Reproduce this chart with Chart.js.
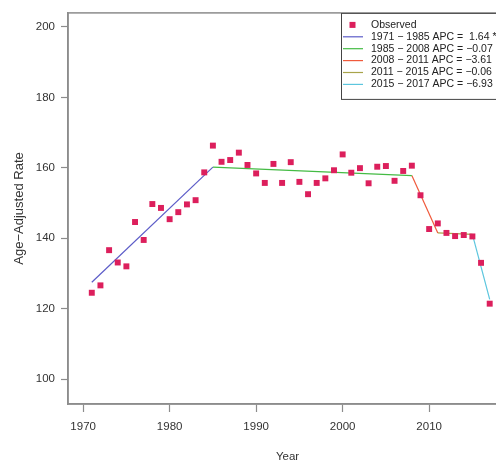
<!DOCTYPE html>
<html>
<head>
<meta charset="utf-8">
<script src="https://cdn.jsdelivr.net/npm/chart.js@4.4.0/dist/chart.umd.min.js"></script>
<style>
  html, body { margin: 0; padding: 0; background: #fff; overflow: hidden; }
  #wrap { width: 520px; height: 464px; }
</style>
</head>
<body>
<div id="wrap"><canvas id="myChart" width="520" height="464"></canvas></div>
<script>
// Observed age-adjusted rates
const years = [1971, 1972, 1973, 1974, 1975, 1976, 1977, 1978, 1979, 1980,
               1981, 1982, 1983, 1984, 1985, 1986, 1987, 1988, 1989, 1990,
               1991, 1992, 1993, 1994, 1995, 1996, 1997, 1998, 1999, 2000,
               2001, 2002, 2003, 2004, 2005, 2006, 2007, 2008, 2009, 2010,
               2011, 2012, 2013, 2014, 2015, 2016, 2017];
const observed = [124.5, 126.6, 136.6, 133.1, 132.0, 144.6, 139.5, 149.7, 148.6, 145.4,
                  147.4, 149.6, 150.8, 158.7, 166.3, 161.7, 162.2, 164.3, 160.8, 158.4,
                  155.7, 161.1, 155.7, 161.6, 156.0, 152.5, 155.7, 157.0, 159.3, 163.8,
                  158.6, 159.9, 155.6, 160.3, 160.5, 156.3, 159.1, 160.6, 152.2, 142.6,
                  144.2, 141.5, 140.6, 140.9, 140.5, 133.0, 121.4];

// Joinpoint fit: segment end years and fitted values
const joinYears = [1971, 1985, 2008, 2011, 2015, 2017];
const joinFit = [127.5, 160.2, 157.8, 141.5, 141.1, 122.6];
const segLabels = [
  '1971 \u2212 1985 APC =  1.64 *',
  '1985 \u2212 2008 APC = \u22120.07',
  '2008 \u2212 2011 APC = \u22123.61',
  '2011 \u2212 2015 APC = \u22120.06',
  '2015 \u2212 2017 APC = \u22126.93'
];
const segColors = ['#5c5cc8', '#44bb44', '#f05a3c', '#a8a44a', '#5cc6de'];
const yTicks = [100, 120, 140, 160, 180, 200];
const xTicks = [1970, 1980, 1990, 2000, 2010];

const axisGray = '#8c8c8c';
const pointColor = '#dc1f5c';

const datasets = [{
    label: 'Observed',
    data: years.map((y, i) => ({ x: y, y: observed[i] })),
    showLine: false,
    pointStyle: 'rect',
    pointRadius: 4.2,
    pointBorderWidth: 0,
    backgroundColor: pointColor,
    borderColor: pointColor,
    order: 0
}];
segLabels.forEach((lab, i) => {
    datasets.push({
        label: lab,
        data: [{ x: joinYears[i], y: joinFit[i] }, { x: joinYears[i + 1], y: joinFit[i + 1] }],
        showLine: true,
        borderColor: segColors[i],
        borderWidth: 1.2,
        pointRadius: 0,
        order: 1
    });
});

// box round the plot area (top and right sides)
const boxPlugin = {
    id: 'box',
    afterDraw(chart) {
        const { ctx, chartArea: a } = chart;
        ctx.save();
        ctx.strokeStyle = axisGray;
        ctx.lineWidth = 1.5;
        ctx.strokeRect(a.left, a.top, a.right - a.left, a.bottom - a.top);
        ctx.restore();
    }
};

// R-style legend box in the top right corner
const legendPlugin = {
    id: 'rlegend',
    afterDraw(chart) {
        const { ctx, chartArea: a } = chart;
        const x0 = 341, y0 = a.top, rowH = 11.9, h = 86;
        ctx.save();
        ctx.fillStyle = '#fff';
        ctx.fillRect(x0, y0, a.right - x0, h);
        ctx.strokeStyle = '#444';
        ctx.lineWidth = 1;
        ctx.strokeRect(x0 + 0.5, y0 + 0.5, a.right - x0, h);
        ctx.font = '10.5px "Liberation Sans", Arial, sans-serif';
        ctx.textBaseline = 'middle';
        ctx.fillStyle = '#222';
        chart.data.datasets.forEach((ds, i) => {
            const cy = y0 + 12 + i * rowH;
            if (i === 0) {
                ctx.fillStyle = pointColor;
                ctx.fillRect(349.5, cy - 3, 6, 6);
            } else {
                ctx.strokeStyle = ds.borderColor;
                ctx.lineWidth = 1.2;
                ctx.beginPath();
                ctx.moveTo(343, cy);
                ctx.lineTo(363, cy);
                ctx.stroke();
            }
            ctx.fillStyle = '#222';
            ctx.fillText(ds.label, 371, cy);
        });
        ctx.restore();
    }
};

const ctx = document.getElementById('myChart').getContext('2d');
const myChart = new Chart(ctx, {
    type: 'scatter',
    data: { datasets: datasets },
    options: {
        responsive: false,
        animation: false,
        layout: { padding: { top: 11, right: 13, left: 0, bottom: 0 } },
        plugins: {
            legend: { display: false },
            tooltip: { enabled: false }
        },
        scales: {
            x: {
                type: 'linear',
                min: 1968.25,
                max: 2019,
                afterFit: s => { s.height = 60; },
                afterBuildTicks: s => { s.ticks = xTicks.map(v => ({ value: v })); },
                ticks: {
                    color: '#333',
                    font: { family: '"Liberation Sans", Arial, sans-serif', size: 11.5 },
                    padding: 8,
                    maxRotation: 0,
                    callback: v => String(v)
                },
                grid: { drawOnChartArea: false, drawTicks: true, tickLength: 8, tickColor: axisGray, tickWidth: 1.2 },
                border: { display: true, color: axisGray, width: 1.5 },
                title: {
                    display: true,
                    text: 'Year',
                    color: '#333',
                    font: { family: '"Liberation Sans", Arial, sans-serif', size: 11.5 },
                    padding: { top: 0, bottom: 0 }
                }
            },
            y: {
                min: 92.9,
                max: 204,
                afterFit: s => { s.width = 68; },
                afterBuildTicks: s => { s.ticks = yTicks.map(v => ({ value: v })); },
                ticks: {
                    color: '#333',
                    font: { family: '"Liberation Sans", Arial, sans-serif', size: 11.5 },
                    padding: 6
                },
                grid: { drawOnChartArea: false, drawTicks: true, tickLength: 7, tickColor: axisGray, tickWidth: 1.2 },
                border: { display: true, color: axisGray, width: 1.5 },
                title: {
                    display: true,
                    text: 'Age\u2212Adjusted Rate',
                    color: '#333',
                    font: { family: '"Liberation Sans", Arial, sans-serif', size: 13 },
                    padding: { top: 12, bottom: 0 }
                }
            }
        }
    },
    plugins: [boxPlugin, legendPlugin]
});
</script>
</body>
</html>
